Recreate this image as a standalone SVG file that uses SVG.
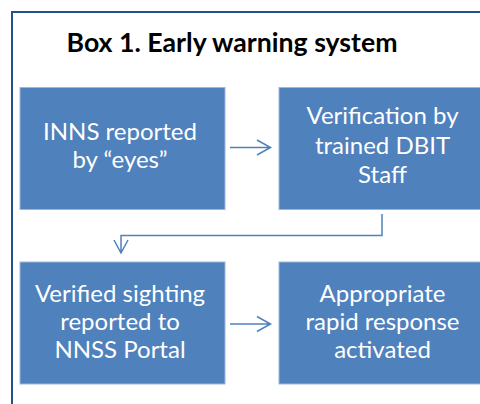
<svg xmlns="http://www.w3.org/2000/svg" width="480" height="404" viewBox="0 0 480 404">
<style>
.box{fill:#4F81BD;stroke:#9DB7DC;stroke-width:1}
.t{font-family:Lato,"Liberation Sans",sans-serif;font-size:24px;fill:#FFFFFF;text-anchor:middle}
.title{font-family:Lato,"Liberation Sans",sans-serif;font-size:26px;font-weight:bold;fill:#000000}
.c{fill:none;stroke:#4F81BD;stroke-width:1.5}
</style>
<rect width="480" height="404" fill="#FFFFFF"/>
<rect x="12" y="12" width="480" height="410" fill="none" stroke="#24508F" stroke-width="2"/>
<text class="title" x="66.5" y="52" textLength="331" lengthAdjust="spacingAndGlyphs">Box 1. Early warning system</text>
<g id="n1">
<rect class="box" x="20" y="87.5" width="205" height="122"/>
<text class="t" x="120" y="140">INNS reported</text>
<text class="t" x="120" y="167.5">by “eyes”</text>
</g>
<g id="n2">
<rect class="box" x="279" y="87.5" width="205" height="122"/>
<text class="t" x="382.5" y="124">Verification by</text>
<text class="t" x="382.5" y="153.5">trained DBIT</text>
<text class="t" x="382.5" y="183">Staff</text>
</g>
<g id="n3">
<rect class="box" x="20" y="262" width="205" height="122"/>
<text class="t" x="120" y="301.5">Verified sighting</text>
<text class="t" x="120" y="330">reported to</text>
<text class="t" x="120" y="358">NNSS Portal</text>
</g>
<g id="n4">
<rect class="box" x="279" y="262" width="205" height="122"/>
<text class="t" x="382.5" y="301.5">Appropriate</text>
<text class="t" x="382.5" y="330">rapid response</text>
<text class="t" x="382.5" y="358">activated</text>
</g>
<g id="connectors">
<path class="c" d="M230 147.5 H270.5 M257 140 L270.5 147.5 L257 155"/>
<path class="c" d="M382 214 V235.5 H121 V253 M114 240 L121 253 L128 240"/>
<path class="c" d="M230 324 H270.5 M257 316.5 L270.5 324 L257 331.5"/>
</g>
</svg>
